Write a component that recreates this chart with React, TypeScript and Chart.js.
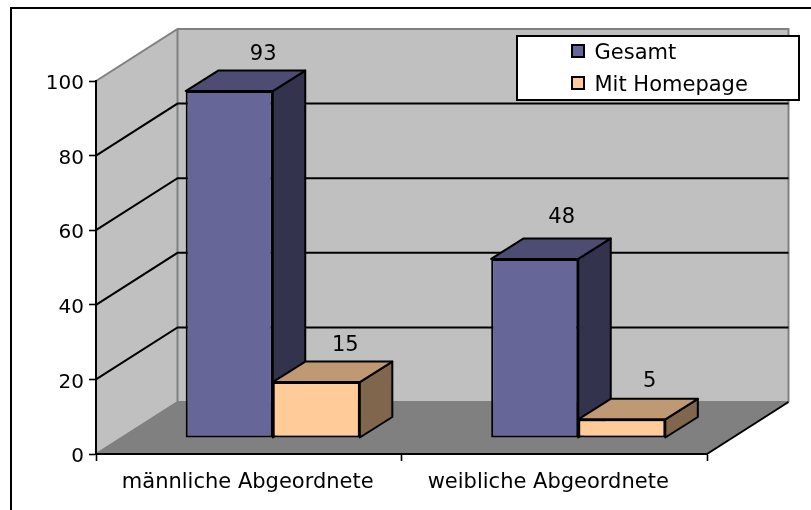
import React, { useEffect, useRef } from "react";
import { Chart, registerables } from "chart.js";

Chart.register(...registerables);

const categories = ["männliche Abgeordnete", "weibliche Abgeordnete"];
const gesamt = [93, 48];
const mitHomepage = [15, 5];
const seriesNames = ["Gesamt", "Mit Homepage"];
const gridValues = [20, 40, 60, 80];

const FONT = "'DejaVu Sans', Verdana, sans-serif";
const FONT_SIZE = 21;
const Y_FONT_SIZE = 20;

const WALL_DX = 81.5;
const WALL_DY = 52;
const BAR_SHIFT_X = 24;
const BAR_SHIFT_Y = -16;
const BAR_DX = 32.5;
const BAR_DY = 20.5;
const sideColors = ["#33334d", "#80664d"];
const topColors = ["#4d4d73", "#bf9973"];
const labelNudgeX = [[34, 29], [27, 28]];
const labelNudgeY = [[16, 16], [21, 17]];
const xLabelNudge = [-1, -6];

// Moves the tick labels of a scale by a few pixels, after the library has placed them.
function nudgeLabels(s: any, dx: (i: number) => number, dy: number) {
  if (s.__nudged || !s._computeLabelItems) return;
  s.__nudged = true;
  const orig = s._computeLabelItems;
  s._computeLabelItems = function (area: any) {
    const items = orig.call(s, area);
    items.forEach((it: any, i: number) => {
      it.options.translation = [it.options.translation[0] + dx(i), it.options.translation[1] + dy];
    });
    return items;
  };
}

const scene = {
  id: "scene",
  beforeDraw(chart: any) {
    const { ctx, chartArea: a, scales } = chart;
    const y = scales.y;
    const y0 = y.getPixelForValue(0);
    const yMax = y.getPixelForValue(100);
    ctx.save();
    ctx.fillStyle = "#ffffff";
    ctx.fillRect(0, 0, chart.width, chart.height);
    // outer frame, cut by the picture's right and bottom edge
    ctx.strokeStyle = "#000000";
    ctx.lineWidth = 2;
    ctx.strokeRect(11, 8, 1000, 1000);
    // left wall
    ctx.fillStyle = "#c0c0c0";
    ctx.beginPath();
    ctx.moveTo(a.left, y0);
    ctx.lineTo(a.left, yMax);
    ctx.lineTo(a.left + WALL_DX, yMax - WALL_DY);
    ctx.lineTo(a.left + WALL_DX, y0 - WALL_DY);
    ctx.closePath();
    ctx.fill();
    // back wall
    ctx.fillRect(a.left + WALL_DX, yMax - WALL_DY, a.right - a.left, y0 - yMax);
    // floor
    ctx.fillStyle = "#808080";
    ctx.beginPath();
    ctx.moveTo(a.left, y0);
    ctx.lineTo(a.left + WALL_DX, y0 - WALL_DY);
    ctx.lineTo(a.right + WALL_DX, y0 - WALL_DY);
    ctx.lineTo(a.right, y0);
    ctx.closePath();
    ctx.fill();
    // wall edges
    ctx.strokeStyle = "#808080";
    ctx.lineWidth = 2;
    ctx.beginPath();
    ctx.moveTo(a.left, yMax);
    ctx.lineTo(a.left + WALL_DX, yMax - WALL_DY);
    ctx.lineTo(a.right + WALL_DX, yMax - WALL_DY);
    ctx.lineTo(a.right + WALL_DX, y0 - WALL_DY);
    ctx.moveTo(a.left + WALL_DX, yMax - WALL_DY);
    ctx.lineTo(a.left + WALL_DX, y0 - WALL_DY);
    ctx.lineTo(a.right + WALL_DX, y0 - WALL_DY);
    ctx.moveTo(a.left + WALL_DX, y0 - WALL_DY);
    ctx.lineTo(a.left, y0);
    ctx.stroke();
    // grid lines
    ctx.strokeStyle = "#000000";
    ctx.lineWidth = 2;
    ctx.beginPath();
    for (const v of gridValues) {
      const py = y.getPixelForValue(v);
      ctx.moveTo(a.left, py);
      ctx.lineTo(a.left + WALL_DX, py - WALL_DY);
      ctx.lineTo(a.right + WALL_DX, py - WALL_DY);
    }
    ctx.stroke();
    // floor's right edge
    ctx.lineWidth = 2;
    ctx.beginPath();
    ctx.moveTo(a.right, y0);
    ctx.lineTo(a.right + WALL_DX, y0 - WALL_DY);
    ctx.stroke();
    // legend box
    ctx.fillStyle = "#ffffff";
    ctx.fillRect(517, 36, 282, 64);
    ctx.strokeRect(517, 36, 282, 64);
    ctx.restore();
  },
  afterLayout(chart: any) {
    const l = chart.legend;
    l.left = 561;
    l.top = 29.5;
    l.right = 799;
    l.bottom = 110;
    if (!l.__wrapped) {
      l.__wrapped = true;
      const draw = l.draw;
      // the text sits a little lower than its marker
      l.draw = function () {
        const ctx = chart.ctx;
        const fill = ctx.fillText;
        ctx.fillText = function (t: string, x: number, y: number) {
          fill.call(ctx, t, x, y + 2.5);
        };
        draw.call(l);
        delete ctx.fillText;
      };
    }
  },
  beforeDatasetsDraw(chart: any) {
    const { ctx } = chart;
    ctx.save();
    ctx.translate(BAR_SHIFT_X, BAR_SHIFT_Y);
    ctx.strokeStyle = "#000000";
    ctx.lineWidth = 2;
    ctx.lineJoin = "round";
    chart.data.datasets.forEach((_: any, d: number) => {
      chart.getDatasetMeta(d).data.forEach((bar: any) => {
        const l = bar.x - bar.width / 2;
        const r = bar.x + bar.width / 2;
        ctx.fillStyle = sideColors[d];
        ctx.beginPath();
        ctx.moveTo(r, bar.base);
        ctx.lineTo(r + BAR_DX, bar.base - BAR_DY);
        ctx.lineTo(r + BAR_DX, bar.y - BAR_DY);
        ctx.lineTo(r, bar.y);
        ctx.closePath();
        ctx.fill();
        ctx.stroke();
        ctx.fillStyle = topColors[d];
        ctx.beginPath();
        ctx.moveTo(l, bar.y);
        ctx.lineTo(l + BAR_DX, bar.y - BAR_DY);
        ctx.lineTo(r + BAR_DX, bar.y - BAR_DY);
        ctx.lineTo(r, bar.y);
        ctx.closePath();
        ctx.fill();
        ctx.stroke();
      });
    });
    ctx.restore();
  },
  beforeDatasetDraw(chart: any) {
    chart.ctx.save();
    chart.ctx.translate(BAR_SHIFT_X, BAR_SHIFT_Y);
  },
  afterDatasetDraw(chart: any) {
    chart.ctx.restore();
  },
  afterDatasetsDraw(chart: any) {
    const { ctx } = chart;
    ctx.save();
    ctx.font = `${FONT_SIZE}px ${FONT}`;
    ctx.fillStyle = "#000000";
    ctx.textAlign = "center";
    ctx.textBaseline = "middle";
    chart.data.datasets.forEach((ds: any, d: number) => {
      chart.getDatasetMeta(d).data.forEach((bar: any, i: number) => {
        ctx.fillText(
          String(ds.data[i]),
          bar.x + BAR_SHIFT_X + labelNudgeX[i][d],
          bar.y + BAR_SHIFT_Y - BAR_DY - labelNudgeY[i][d]
        );
      });
    });
    ctx.restore();
  },
};

export default function App() {
  const ref = useRef<HTMLCanvasElement | null>(null);
  useEffect(() => {
    const chart = new Chart(ref.current as HTMLCanvasElement, {
      type: "bar",
      data: {
        labels: categories,
        datasets: [
          { label: seriesNames[0], data: gesamt, backgroundColor: "#666699", borderColor: "#000000", borderWidth: 2, borderSkipped: false },
          { label: seriesNames[1], data: mitHomepage, backgroundColor: "#ffcc99", borderColor: "#000000", borderWidth: 2, borderSkipped: false },
        ],
      },
      options: {
        animation: false,
        responsive: false,
        devicePixelRatio: 1,
        layout: { padding: { top: 81, right: 104, left: 0, bottom: 0 } },
        datasets: { bar: { categoryPercentage: 0.57, barPercentage: 1 } },
        scales: {
          x: {
            afterFit: (s: any) => { s.height = 56; },
            afterUpdate: (s: any) => nudgeLabels(s, (i) => xLabelNudge[i] ?? 0, 3),
            grid: { drawOnChartArea: false, drawTicks: true, tickLength: 7, tickColor: "#000000", tickWidth: 1.6, color: "#000000" },
            border: { display: true, color: "#000000", width: 2 },
            ticks: { color: "#000000", font: { family: FONT, size: FONT_SIZE }, padding: 6, maxRotation: 0, autoSkip: false },
          },
          y: {
            min: 0,
            max: 100,
            afterFit: (s: any) => { s.width = 96; },
            afterUpdate: (s: any) => nudgeLabels(s, () => 0, 3),
            grid: { drawOnChartArea: false, drawTicks: true, tickLength: 7, tickColor: "#000000", tickWidth: 1.6, color: "#000000" },
            border: { display: true, color: "#000000", width: 2 },
            ticks: { stepSize: 20, color: "#000000", font: { family: FONT, size: Y_FONT_SIZE }, padding: 5 },
          },
        },
        plugins: {
          title: { display: false },
          tooltip: { enabled: false },
          legend: {
            display: true,
            position: "chartArea",
            align: "start",
            labels: {
              boxWidth: 12,
              boxHeight: 12,
              padding: 11,
              color: "#000000",
              font: { family: FONT, size: FONT_SIZE },
            },
          },
        },
      },
      plugins: [scene],
    } as any);
    return () => chart.destroy();
  }, []);
  return (
    <canvas
      ref={ref}
      width={811}
      height={510}
      style={{ position: "fixed", left: 0, top: 0, width: 811, height: 510, display: "block" }}
    />
  );
}
